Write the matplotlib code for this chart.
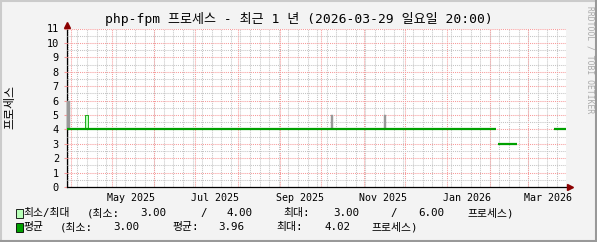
import numpy as np
import pandas as pd
import matplotlib
matplotlib.use('Agg')
import matplotlib.pyplot as plt
import matplotlib.dates as mdates
from matplotlib.patches import Rectangle
from matplotlib.lines import Line2D
from matplotlib.ticker import MultipleLocator, NullFormatter

# time window (last 1 year)
t_start = pd.Timestamp('2025-03-29 20:00')
t_end = pd.Timestamp('2026-03-29 20:00')

# average line segments
avg_start = ['2025-03-29 20:00', '2026-02-08 00:00', '2026-03-20 17:00']
avg_end = ['2026-02-06 08:00', '2026-02-21 10:00', '2026-03-29 20:00']
avg_value = [4, 3, 4]

# short max spikes (grey)
spike_start = ['2025-03-30 12:00', '2025-10-08 22:00', '2025-11-16 08:00']
spike_end = ['2025-04-01 06:00', '2025-10-10 08:00', '2025-11-17 20:00']
spike_value = [6, 5, 5]

# min/max band spike (light green)
band_start = ['2025-04-12 08:00']
band_end = ['2025-04-14 08:00']
band_low = [4]
band_high = [5]

# legend numbers
mm_min = (3.00, 4.00)
mm_max = (3.00, 6.00)
avg_min, avg_avg, avg_max = 3.00, 3.96, 4.02

title = 'php-fpm 프로세스 - 최근 1 년 (2026-03-29 일요일 20:00)'
ylabel = '프로세스'
unit = '프로세스)'

W, H = 597, 242
fonts = ['DejaVu Sans Mono', 'Noto Sans CJK KR']
plt.rcParams['font.family'] = fonts

def fx(px):
    return px / W

def fy(py):
    return 1 - py / H

fig = plt.figure(figsize=(W / 100, H / 100), dpi=100)
fig.patch.set_facecolor('#F3F3F3')

# 3d-ish border
fig.add_artist(Line2D([0, 1], [fy(1), fy(1)], color='#CBCBCB', lw=1.5))
fig.add_artist(Line2D([fx(1), fx(1)], [0, 1], color='#CBCBCB', lw=1.5))
fig.add_artist(Line2D([0, 1], [fy(241), fy(241)], color='#999999', lw=1.5))
fig.add_artist(Line2D([fx(596), fx(596)], [0, 1], color='#999999', lw=1.5))

x0, x1 = 66.5, 566.5
y0, y1 = 187, 28.5
ax = fig.add_axes([fx(x0), fy(y0), fx(x1) - fx(x0), fy(y1) - fy(y0)])
ax.set_facecolor('white')
ax.set_xlim(t_start, t_end)
ax.set_ylim(0, 11)
for s in ax.spines.values():
    s.set_visible(False)

grid_gray = '#C4C4C4'
grid_red = '#F79A9A'
dot = (0, (1, 1))

# horizontal grid
ax.yaxis.set_major_locator(MultipleLocator(1))
ax.yaxis.set_minor_locator(MultipleLocator(0.5))
ax.grid(axis='y', which='minor', color=grid_gray, lw=0.75, ls=dot)
ax.grid(axis='y', which='major', color=grid_red, lw=0.75, ls=dot)

# vertical grid: weeks and months
for d in pd.date_range(t_start, t_end, freq='W-SUN'):
    ax.axvline(d, color=grid_gray, lw=0.75, ls=dot, zorder=0.5)
for d in pd.date_range(t_start, t_end, freq='MS'):
    ax.axvline(d, color=grid_red, lw=0.75, ls=dot, zorder=0.6)

ax.xaxis.set_major_locator(mdates.MonthLocator(bymonth=[1, 3, 5, 7, 9, 11], bymonthday=16))
ax.xaxis.set_major_formatter(mdates.DateFormatter('%b %Y'))
ax.xaxis.set_minor_formatter(NullFormatter())
ax.tick_params(axis='x', length=0, pad=4, labelsize=7.2)
ax.tick_params(axis='y', length=2, direction='out', color=grid_red, pad=3.5, labelsize=7.4)
ax.tick_params(axis='y', which='minor', length=0)

# spikes
for s, e, v in zip(spike_start, spike_end, spike_value):
    ax.fill_between([pd.Timestamp(s), pd.Timestamp(e)], 4, v, color='#999999', lw=0.3,
                    edgecolor='#999999', zorder=2, clip_on=False)
for s, e, lo, hi in zip(band_start, band_end, band_low, band_high):
    ax.fill_between([pd.Timestamp(s), pd.Timestamp(e)], lo, hi, facecolor='#B8FFB8',
                    edgecolor='#00A000', lw=0.6, zorder=2)

# average line
for s, e, v in zip(avg_start, avg_end, avg_value):
    ax.plot([pd.Timestamp(s), pd.Timestamp(e)], [v, v], color='#00A000', lw=1.6,
            solid_capstyle='butt', zorder=3)

# axes with arrows
ax.plot([0, 1.008], [0, 0], transform=ax.transAxes, color='black', lw=0.9, clip_on=False, zorder=4)
ax.plot([0, 0], [0, 1.015], transform=ax.transAxes, color='black', lw=0.9, clip_on=False, zorder=1.5)
ax.plot([1.008], [0], marker='>', ms=4.2, color='#8B0000', transform=ax.transAxes,
        clip_on=False, zorder=5)
ax.plot([0], [1.024], marker='^', ms=4.2, color='#8B0000', transform=ax.transAxes,
        clip_on=False, zorder=5)

# texts
fig.text(0.5, fy(19), title, ha='center', va='center', fontsize=9.4)
fig.text(fx(10), fy(107), ylabel, rotation=90, ha='center', va='center', fontsize=8.6,
         family='Noto Sans CJK KR')
fig.text(fx(590), fy(6), 'RRDTOOL / TOBI OETIKER', rotation=270, ha='center', va='top',
         fontsize=5.8, color='#AAAAAA')

# legend
lfs = 7.8
r1, r2 = fy(213), fy(227)
fig.add_artist(Rectangle((fx(16), fy(218)), fx(7), fy(209) - fy(218), facecolor='#B8FFB8',
                         edgecolor='black', lw=0.6))
fig.add_artist(Rectangle((fx(16), fy(232)), fx(7), fy(223) - fy(232), facecolor='#00A000',
                         edgecolor='black', lw=0.6))

row1 = [(23.5, '최소/최대'), (86.7, '(최소:'), (140, f'{mm_min[0]:.2f}'), (200, '/'),
        (226.7, f'{mm_min[1]:.2f}'), (283, '최대:'), (333, f'{mm_max[0]:.2f}'), (390, '/'),
        (418, f'{mm_max[1]:.2f}'), (467, unit)]
row2 = [(23.5, '평균'), (60, '(최소:'), (113, f'{avg_min:.2f}'), (172, '평균:'),
        (218, f'{avg_avg:.2f}'), (276, '최대:'), (325, f'{avg_max:.2f}'), (372, unit)]
for px, t in row1:
    fig.text(fx(px), r1, t, ha='left', va='center', fontsize=lfs)
for px, t in row2:
    fig.text(fx(px), r2, t, ha='left', va='center', fontsize=lfs)

fig.savefig('out.png', dpi=100, facecolor=fig.get_facecolor())
